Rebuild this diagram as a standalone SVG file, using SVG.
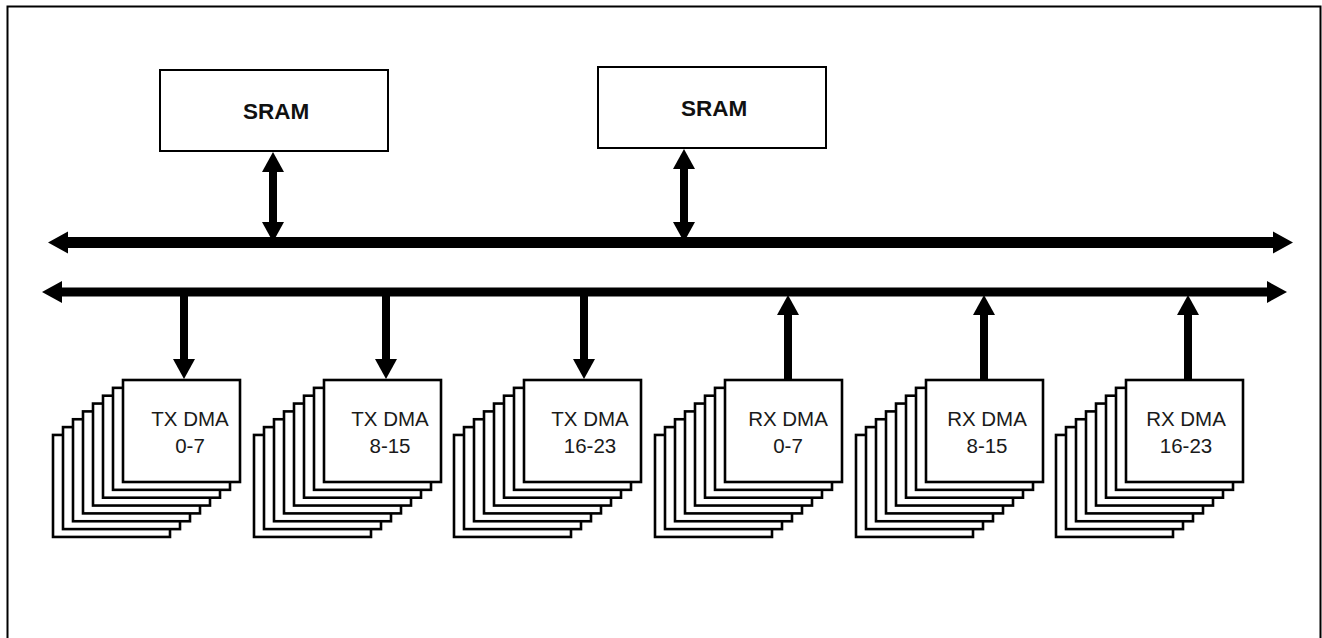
<svg xmlns="http://www.w3.org/2000/svg" xmlns:xlink="http://www.w3.org/1999/xlink" width="1322" height="638" viewBox="0 0 1322 638">
  <style>
    .frame{fill:none;stroke:#000;stroke-width:2}
    .box{fill:#fff;stroke:#000;stroke-width:2}
    .dbox{fill:#fff;stroke:#000;stroke-width:2.6}
    .sram{font-family:"Liberation Sans",Arial,sans-serif;font-weight:bold;font-size:22.5px;fill:#111;text-anchor:middle}
    .dma{font-family:"Liberation Sans",Arial,sans-serif;font-size:20.5px;fill:#1a1a1a;text-anchor:middle}
    .bus{stroke:#000;fill:none}
  </style>
  <defs>
    <marker id="ah" markerUnits="userSpaceOnUse" markerWidth="20" markerHeight="22" refX="0" refY="11" orient="auto-start-reverse" viewBox="0 0 20 22" overflow="visible">
      <path d="M0,0 L20,11 L0,22 Z" fill="#000"/>
    </marker>
    <g id="stack">
      <rect class="dbox" x="-70" y="54.95" width="117" height="102"/>
      <rect class="dbox" x="-60" y="47.1" width="117" height="102"/>
      <rect class="dbox" x="-50" y="39.25" width="117" height="102"/>
      <rect class="dbox" x="-40" y="31.4" width="117" height="102"/>
      <rect class="dbox" x="-30" y="23.55" width="117" height="102"/>
      <rect class="dbox" x="-20" y="15.7" width="117" height="102"/>
      <rect class="dbox" x="-10" y="7.85" width="117" height="102"/>
      <rect class="dbox" x="0" y="0" width="117" height="102"/>
    </g>
  </defs>
  <rect width="1322" height="638" fill="#fff"/>
  <path class="frame" d="M7.5,660 V6.5 H1320.5 V660"/>

  <g id="sram1">
    <rect class="box" x="160" y="70" width="228" height="81"/>
    <text class="sram" x="276" y="119">SRAM</text>
  </g>
  <g id="sram2">
    <rect class="box" x="598" y="67" width="228" height="81"/>
    <text class="sram" x="714" y="116">SRAM</text>
  </g>

  <g id="tx-dma-0-7">
    <use href="#stack" xlink:href="#stack" transform="translate(123,380)"/>
    <text class="dma" x="190" y="426">TX DMA</text>
    <text class="dma" x="190" y="453">0-7</text>
  </g>
  <g id="tx-dma-8-15">
    <use href="#stack" xlink:href="#stack" transform="translate(324,380)"/>
    <text class="dma" x="390" y="426">TX DMA</text>
    <text class="dma" x="390" y="453">8-15</text>
  </g>
  <g id="tx-dma-16-23">
    <use href="#stack" xlink:href="#stack" transform="translate(524,380)"/>
    <text class="dma" x="590" y="426">TX DMA</text>
    <text class="dma" x="590" y="453">16-23</text>
  </g>
  <g id="rx-dma-0-7">
    <use href="#stack" xlink:href="#stack" transform="translate(725,380)"/>
    <text class="dma" x="788" y="426">RX DMA</text>
    <text class="dma" x="788" y="453">0-7</text>
  </g>
  <g id="rx-dma-8-15">
    <use href="#stack" xlink:href="#stack" transform="translate(926,380)"/>
    <text class="dma" x="987" y="426">RX DMA</text>
    <text class="dma" x="987" y="453">8-15</text>
  </g>
  <g id="rx-dma-16-23">
    <use href="#stack" xlink:href="#stack" transform="translate(1126,380)"/>
    <text class="dma" x="1186" y="426">RX DMA</text>
    <text class="dma" x="1186" y="453">16-23</text>
  </g>

  <g id="connectors">
    <line class="bus" x1="68" y1="242.5" x2="1273" y2="242.5" stroke-width="11" marker-start="url(#ah)" marker-end="url(#ah)"/>
    <line class="bus" x1="62" y1="292" x2="1267" y2="292" stroke-width="9" marker-start="url(#ah)" marker-end="url(#ah)"/>
    <line class="bus" x1="273" y1="172" x2="273" y2="222" stroke-width="8" marker-start="url(#ah)" marker-end="url(#ah)"/>
    <line class="bus" x1="684" y1="169" x2="684" y2="222" stroke-width="8" marker-start="url(#ah)" marker-end="url(#ah)"/>
    <line class="bus" x1="184" y1="292" x2="184" y2="359" stroke-width="8" marker-end="url(#ah)"/>
    <line class="bus" x1="386" y1="292" x2="386" y2="359" stroke-width="8" marker-end="url(#ah)"/>
    <line class="bus" x1="584" y1="292" x2="584" y2="359" stroke-width="8" marker-end="url(#ah)"/>
    <line class="bus" x1="788" y1="380" x2="788" y2="315" stroke-width="8" marker-end="url(#ah)"/>
    <line class="bus" x1="984" y1="380" x2="984" y2="315" stroke-width="8" marker-end="url(#ah)"/>
    <line class="bus" x1="1188" y1="380" x2="1188" y2="315" stroke-width="8" marker-end="url(#ah)"/>
  </g>
</svg>
